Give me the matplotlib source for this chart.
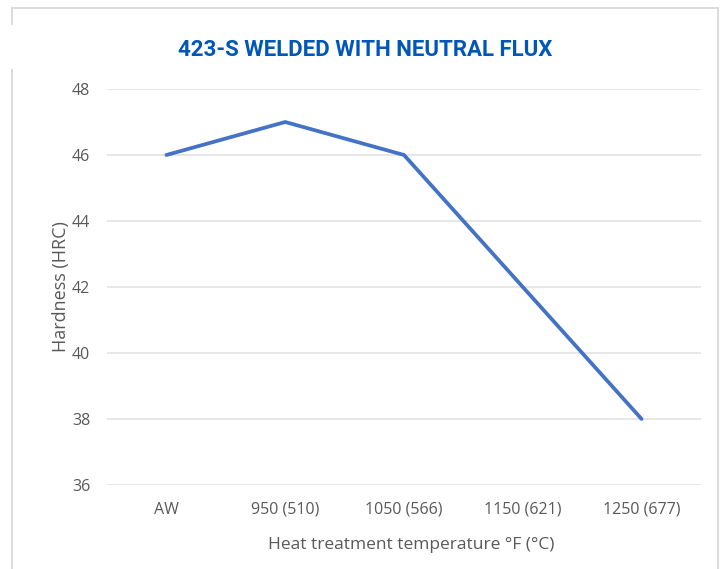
import matplotlib
matplotlib.use("Agg")
from matplotlib import pyplot as plt
from matplotlib.lines import Line2D

categories = ["AW", "950 (510)", "1050 (566)", "1150 (621)", "1250 (677)"]
hardness = [46, 47, 46, 42, 38]
y_ticks = [36, 38, 40, 42, 44, 46, 48]

W, H = 721, 569
fig = plt.figure(figsize=(W / 100, H / 100), dpi=100)
ax = fig.add_axes([107 / W, 1 - 485 / H, 594 / W, 396 / H])

x = list(range(len(categories)))
ax.plot(x, hardness, color="#4472C4", linewidth=2.7, solid_capstyle="round", zorder=3)

ax.set_xlim(-0.5, len(categories) - 0.5)
ax.set_ylim(36, 48)
ax.set_yticks(y_ticks)
ax.set_xticks(x)
ax.set_xticklabels(categories)
ax.grid(axis="y", color="#e3e3e3", linewidth=1.2)
ax.set_axisbelow(True)
for s in ax.spines.values():
    s.set_visible(False)
ax.tick_params(length=0, labelsize=11.5, colors="#595959")
ax.tick_params(axis="y", pad=12)
ax.tick_params(axis="x", pad=12)
for lbl in ax.get_xticklabels() + ax.get_yticklabels():
    lbl.set_fontfamily("Open Sans")

ax.set_ylabel("Hardness (HRC)", fontsize=13, color="#595959", family="Open Sans")
ax.set_xlabel("Heat treatment temperature °F (°C)", fontsize=12.5, color="#595959",
              family="Open Sans")
ax.yaxis.set_label_coords((61 - 107) / 594, 0.5)
ax.xaxis.set_label_coords((411 - 107) / 594, (485 - 545) / 396)
ax.xaxis.label.set_va("center")
ax.yaxis.label.set_va("center")

fig.text(365 / W, 1 - 50 / H, "423-S WELDED WITH NEUTRAL FLUX", ha="center", va="center",
         fontsize=16, fontweight="bold", color="#0057B8", family="Roboto")

# light frame around the chart
frame = "#d9d9d9"
fig.add_artist(Line2D([12 / W, 718 / W], [1 - 8 / H, 1 - 8 / H], color=frame, lw=1.3))
fig.add_artist(Line2D([718 / W, 718 / W], [1 - 8 / H, 0], color=frame, lw=1.3))
fig.add_artist(Line2D([12 / W, 12 / W], [1 - 8 / H, 1 - 24 / H], color=frame, lw=1.3))
fig.add_artist(Line2D([12 / W, 12 / W], [1 - 70 / H, 0], color=frame, lw=1.3))

fig.savefig("out.png", dpi=100, facecolor="white")
